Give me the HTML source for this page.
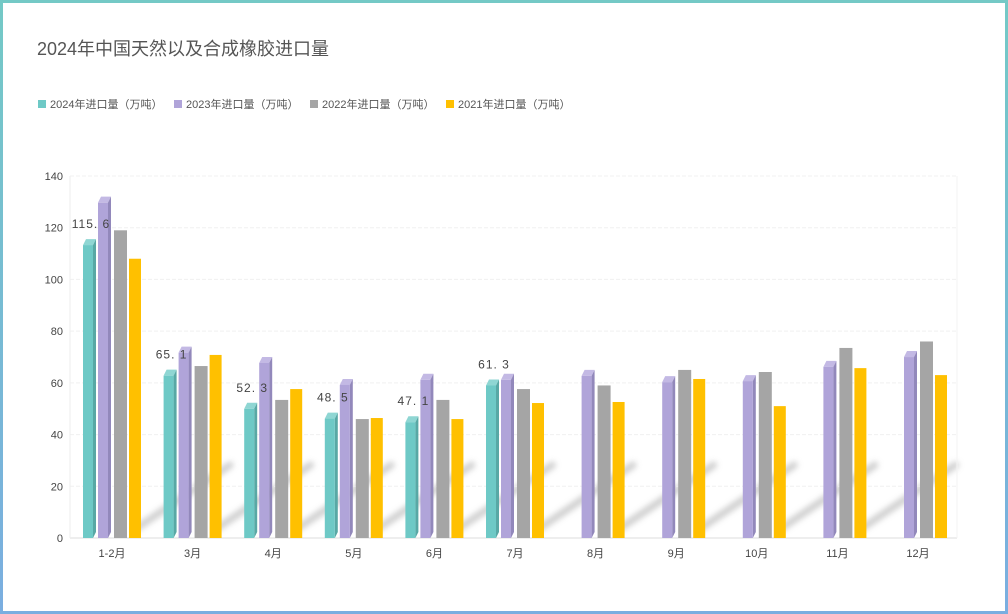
<!DOCTYPE html>
<html><head><meta charset="utf-8"><style>
html,body{margin:0;padding:0;background:#fff}
#wrap{position:relative;width:1008px;height:614px;box-sizing:border-box;overflow:hidden}
svg text{font-family:"Liberation Sans","Noto Sans CJK SC",sans-serif}
</style></head><body><div id="wrap">
<svg id="s" width="1008" height="614" xmlns="http://www.w3.org/2000/svg">
<defs>
<linearGradient id="bd" x1="0" y1="0" x2="0" y2="1"><stop offset="0" stop-color="#74c9c6"/><stop offset="1" stop-color="#7aaee0"/></linearGradient>
<filter id="bl" x="-50%" y="-50%" width="200%" height="200%"><feGaussianBlur stdDeviation="3"/></filter>
</defs>
<rect x="1.5" y="1.5" width="1005" height="611" fill="none" stroke="url(#bd)" stroke-width="3"/>
<text x="37" y="55" font-size="18" fill="#555">2024年中国天然以及合成橡胶进口量</text>
<g font-size="11" fill="#555">
<rect x="38" y="100" width="8" height="8" fill="#6ec9c6"/><text x="50" y="108">2024年进口量（万吨）</text>
<rect x="174" y="100" width="8" height="8" fill="#b0a4d9"/><text x="186" y="108">2023年进口量（万吨）</text>
<rect x="310" y="100" width="8" height="8" fill="#a5a5a5"/><text x="322" y="108">2022年进口量（万吨）</text>
<rect x="446" y="100" width="8" height="8" fill="#ffc000"/><text x="458" y="108">2021年进口量（万吨）</text>
</g>
<g id="g"></g>
</svg>
<script>
var g=document.getElementById('g'),h='';
function Y(v){return 538-v*362/140}
for(var i=0;i<=7;i++){var y=Y(i*20);h+='<line x1="70" x2="957" y1="'+y+'" y2="'+y+'" stroke="'+(i==0?'#ddd':'#f0f0f0')+'" stroke-dasharray="'+(i==0?'':'4,2')+'"/>';h+='<text x="63" y="'+(y+4)+'" font-size="11" fill="#444" text-anchor="end">'+(i*20)+'</text>'}
h+='<line x1="70" x2="70" y1="176" y2="538" stroke="#eee"/><line x1="957" x2="957" y1="176" y2="538" stroke="#f3f3f3"/>';
var L=['1-2月','3月','4月','5月','6月','7月','8月','9月','10月','11月','12月'];
var A=[115.6,65.1,52.3,48.5,47.1,61.3];
var B=[132,74,70,61.5,63.5,63.5,65,62.6,63,68.5,72.3];
var C=[119,66.5,53.4,46,53.4,57.6,59,65,64.2,73.5,76];
var D=[108,70.8,57.6,46.4,46,52.2,52.6,61.5,51,65.7,63];
function b3(x,v,f,s,t){var top=Y(v),ft=top+6;return '<polygon points="'+x+','+ft+' '+(x+3)+','+top+' '+(x+13)+','+top+' '+(x+10)+','+ft+'" fill="'+t+'"/><polygon points="'+(x+10)+','+ft+' '+(x+13)+','+top+' '+(x+13)+',532 '+(x+10)+',538" fill="'+s+'"/><rect x="'+x+'" y="'+ft+'" width="10" height="'+(538-ft)+'" fill="'+f+'"/>'}
var sh='';
for(var k=0;k<11;k++){var c=112+k*80.6;
 if(k<10)sh+='<line x1="'+(c+25)+'" y1="528" x2="'+(c+118)+'" y2="465" stroke="#bbb" stroke-width="7" stroke-linecap="round" filter="url(#bl)" opacity="0.7"/>';
 h+='<text x="'+c+'" y="557" font-size="11" fill="#444" text-anchor="middle">'+L[k]+'</text>';}
h=sh+h;
for(var k=0;k<11;k++){var c=112+k*80.6;
 if(k<A.length){h+=b3(c-29,A[k],'#6ec9c6','#58a8a5','#8fd6d3');}
 h+=b3(c-14,B[k],'#b0a4d9','#9288bb','#c3b9e4');
 h+='<rect x="'+(c+2)+'" y="'+Y(C[k])+'" width="13" height="'+(538-Y(C[k]))+'" fill="#a5a5a5"/>';
 h+='<rect x="'+(c+17)+'" y="'+Y(D[k])+'" width="12" height="'+(538-Y(D[k]))+'" fill="#ffc000"/>';
}
for(var k=0;k<A.length;k++){var c=112+k*80.6;h+='<text x="'+(c-21)+'" y="'+(Y(A[k])-11)+'" font-size="12" fill="#444" text-anchor="middle" letter-spacing="1">'+A[k].toFixed(1).replace('.','. ')+'</text>'}
g.innerHTML=h;
</script>
</div></body></html>
